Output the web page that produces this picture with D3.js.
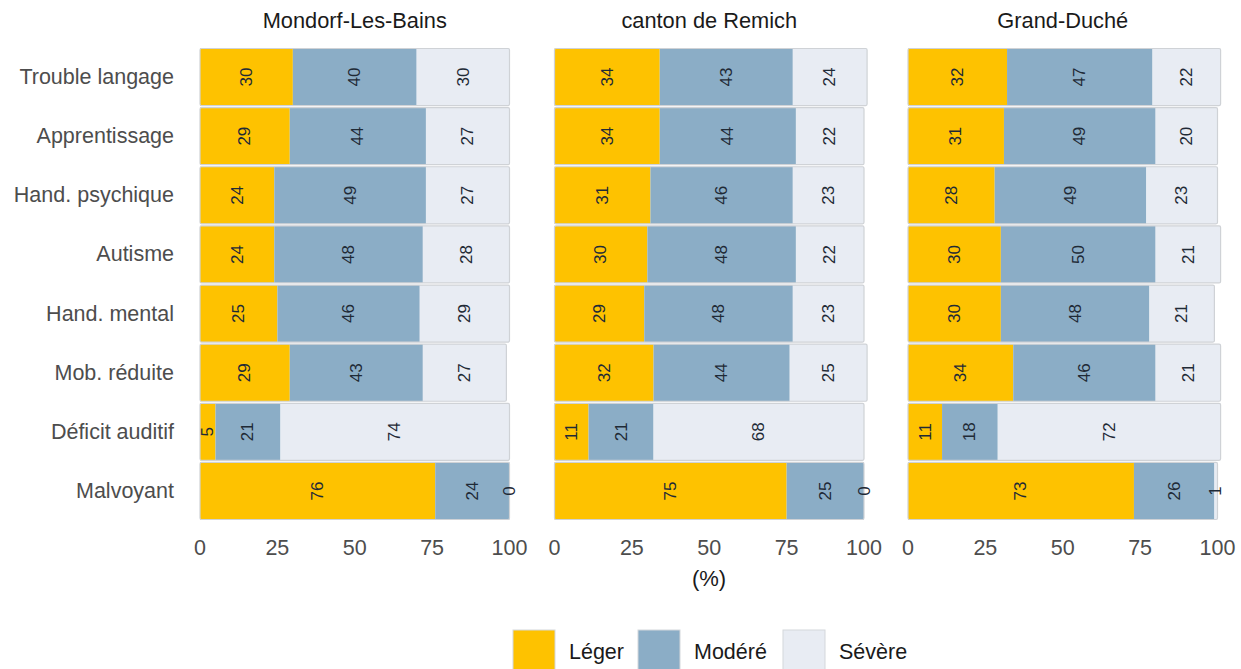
<!DOCTYPE html>
<html><head><meta charset="utf-8">
<script src="https://cdn.jsdelivr.net/npm/d3@7"></script>
<style>body{margin:0;background:#fff;}svg{display:block;font-family:"Liberation Sans",Arial,sans-serif;}</style>
</head><body>
<svg id="c" width="1241" height="669"></svg>
<script>
const categories = ["Trouble langage","Apprentissage","Hand. psychique","Autisme","Hand. mental","Mob. réduite","Déficit auditif","Malvoyant"];
const panels = ["Mondorf-Les-Bains","canton de Remich","Grand-Duché"];
const series = ["Léger","Modéré","Sévère"];
const colors = ["#FEC200","#8BADC6","#E8ECF3"];
const ticks = [0,25,50,75,100];
// values per panel: [Léger, Modéré, Sévère] per category
const mondorf = [[30,40,30],[29,44,27],[24,49,27],[24,48,28],[25,46,29],[29,43,27],[5,21,74],[76,24,0]];
const remich  = [[34,43,24],[34,44,22],[31,46,23],[30,48,22],[29,48,23],[32,44,25],[11,21,68],[75,25,0]];
const gd      = [[32,47,22],[31,49,20],[28,49,23],[30,50,21],[30,48,21],[34,46,21],[11,18,72],[73,26,1]];
const panelData = [mondorf, remich, gd];

const svg = d3.select("#c");
const panelX = [200, 554.5, 908];
const panelW = 309.5;
const y = d3.scaleBand().domain(categories).range([47.5, 520.5]).paddingInner(0.035).paddingOuter(0.017);

// category labels
svg.append("g").selectAll("text").data(categories).join("text")
  .attr("x", 174).attr("y", d => y(d) + y.bandwidth()/2)
  .attr("text-anchor","end").attr("dominant-baseline","central")
  .attr("font-size", 21.5).attr("fill","#4d4d4d").text(d => d);

panelData.forEach((data, pi) => {
  const x = d3.scaleLinear().domain([0,100]).range([panelX[pi], panelX[pi] + panelW]);
  const g = svg.append("g");
  g.append("text").attr("x", x(50)).attr("y", 20).attr("text-anchor","middle").attr("dominant-baseline","central")
    .attr("font-size", 21.8).attr("fill","#1a1a1a").text(panels[pi]);
  categories.forEach((cat, ci) => {
    let cum = 0;
    const vals = data[ci];
    const segs = vals.map((v, si) => { const s = {v, si, x0: cum, x1: cum + v}; cum += v; return s; });
    g.selectAll(null).data(segs).join("rect")
      .attr("x", d => x(d.x0)).attr("y", y(cat))
      .attr("width", d => Math.max(0, x(d.x1) - x(d.x0))).attr("height", y.bandwidth())
      .attr("fill", d => colors[d.si]);
    g.append("rect").attr("x", x(0)).attr("y", y(cat))
      .attr("width", x(cum) - x(0)).attr("height", y.bandwidth())
      .attr("fill","none").attr("stroke","#cfd2d6").attr("stroke-width",1.2).attr("rx",1.5);
    g.selectAll(null).data(segs).join("text")
      .attr("transform", d => `translate(${x((d.x0 + d.x1)/2)},${y(cat) + y.bandwidth()/2}) rotate(-90)`)
      .attr("text-anchor","middle").attr("dominant-baseline","central")
      .attr("font-size", 17).attr("fill","#1f2a36").text(d => d.v);
  });
  g.selectAll(null).data(ticks).join("text")
    .attr("x", d => x(d)).attr("y", 548).attr("text-anchor","middle").attr("dominant-baseline","central")
    .attr("font-size", 21.5).attr("fill","#4d4d4d").text(d => d);
});

svg.append("text").attr("x", 709).attr("y", 578).attr("text-anchor","middle").attr("dominant-baseline","central")
  .attr("font-size", 22).attr("fill","#1a1a1a").text("(%)");

// legend
const legX = [513, 638, 783];
series.forEach((s, i) => {
  svg.append("rect").attr("x", legX[i]).attr("y", 630).attr("width", 42).attr("height", 42)
    .attr("fill", colors[i]).attr("stroke","#d4d7db").attr("stroke-width",1);
  svg.append("text").attr("x", legX[i] + 56).attr("y", 652).attr("dominant-baseline","central")
    .attr("font-size", 21.5).attr("fill","#1a1a1a").text(s);
});
</script>
</body></html>
